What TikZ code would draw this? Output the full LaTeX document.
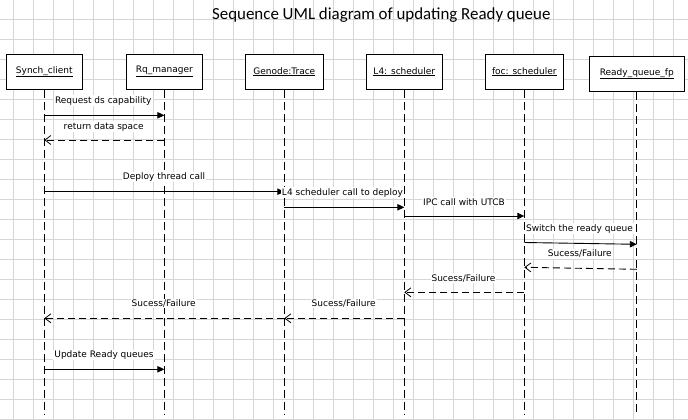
\documentclass[tikz,border=0pt]{standalone}
\usepackage{fontspec}
\setmainfont{DejaVu Sans}
\newfontfamily\titlefont{Carlito}
\usetikzlibrary{arrows.meta}
\begin{document}
\begin{tikzpicture}[x=1pt,y=-1pt,
  gridline/.style={draw=gray!32,line width=0.9pt},
  obj/.style={draw=black,fill=white,line width=0.9pt,minimum height=35.3pt,inner sep=0pt,font=\fontsize{9}{10}\selectfont},
  life/.style={draw=black,line width=0.9pt,dash pattern=on 8pt off 4pt},
  call/.style={draw=black,line width=0.9pt,-{Triangle[length=7pt,width=6.5pt]}},
  reply/.style={draw=black,line width=0.9pt,dash pattern=on 7pt off 4pt,-{Straight Barb[length=6pt,width=9pt,line width=0.8pt]}},
  lbl/.style={fill=white,inner sep=1pt,anchor=base,font=\fontsize{9}{10}\selectfont}]
\useasboundingbox (0,0) rectangle (688,420);
\fill[white] (0,0) rectangle (688,420);
% grid
\foreach \i in {0,...,33} \draw[gridline] ({13.3+20*\i},0) -- ({13.3+20*\i},420);
\foreach \j in {0,...,20} \draw[gridline] (0,{19.3+20*\j}) -- (688,{19.3+20*\j});
% title
\node[anchor=base,inner sep=0pt,font=\titlefont\fontsize{16.9}{18}\selectfont] (title) at (381.3,19.3) {Sequence UML diagram of updating Ready queue};
% objects
\node[obj,minimum width=76.7pt] (sc) at (44.3,71.7) {\underline{Synch\_client}};
\node[obj,minimum width=75.6pt] (rq) at (164.3,71.7) {\underline{Rq\_manager}};
\node[obj,minimum width=78pt] (gt) at (284.3,71.7) {\underline{Genode:Trace}};
\node[obj,minimum width=76.4pt] (l4) at (404.3,71.7) {\underline{L4: scheduler}};
\node[obj,minimum width=78.4pt] (foc) at (524.3,71.7) {\underline{foc: scheduler}};
\node[obj,minimum width=94.7pt] (rqf) at (636.8,73.7) {\underline{Ready\_queue\_fp}};
% lifelines
\coordinate (bot) at (0,414);
\foreach \n in {sc,rq,gt,l4,foc,rqf} \draw[life] (\n.south) -- (\n |- bot);
% message levels
\coordinate (y1) at (0,115.3);
\coordinate (y2) at (0,140);
\coordinate (y3) at (0,191.7);
\coordinate (y4) at (0,207.3);
\coordinate (y5) at (0,216);
\coordinate (y6a) at (0,242.5);
\coordinate (y6b) at (0,244.3);
\coordinate (y7a) at (0,269.3);
\coordinate (y7b) at (0,267.3);
\coordinate (y8) at (0,292.3);
\coordinate (y9) at (0,318.3);
\coordinate (y11) at (0,369.3);
% messages
\draw[call] (sc |- y1) -- (rq |- y1);
\draw[reply] (rq |- y2) -- (sc |- y2);
\draw[call] (sc |- y3) -- (gt |- y3);
\draw[call] (gt |- y4) -- (l4 |- y4);
\draw[call] (l4 |- y5) -- (foc |- y5);
\draw[call] (foc |- y6a) -- (rqf |- y6b);
\draw[reply] (rqf |- y7a) -- (foc |- y7b);
\draw[reply] (foc |- y8) -- (l4 |- y8);
\draw[reply] (l4 |- y9) -- (gt |- y9);
\draw[reply] (gt |- y9) -- (sc |- y9);
\draw[call] (sc |- y11) -- (rq |- y11);
% labels
\node[lbl] (t1) at (103.3,103) {Request ds capability};
\node[lbl] (t2) at (103.7,129.2) {return data space};
\node[lbl] (t3) at (164,179.5) {Deploy thread call};
\node[lbl] (t4) at (342.5,195) {L4 scheduler call to deploy};
\node[lbl] (t5) at (464,205.2) {IPC call with UTCB};
\node[lbl] (t6) at (579.5,231.2) {Switch the ready queue};
\node[lbl] (t7) at (579.8,256.8) {Sucess/Failure};
\node[lbl] (t8) at (463.5,281.2) {Sucess/Failure};
\node[lbl] (t9) at (343.7,306.5) {Sucess/Failure};
\node[lbl] (t10) at (163.7,306.5) {Sucess/Failure};
\node[lbl] (t11) at (104,357.5) {Update Ready queues};
\end{tikzpicture}
\end{document}
